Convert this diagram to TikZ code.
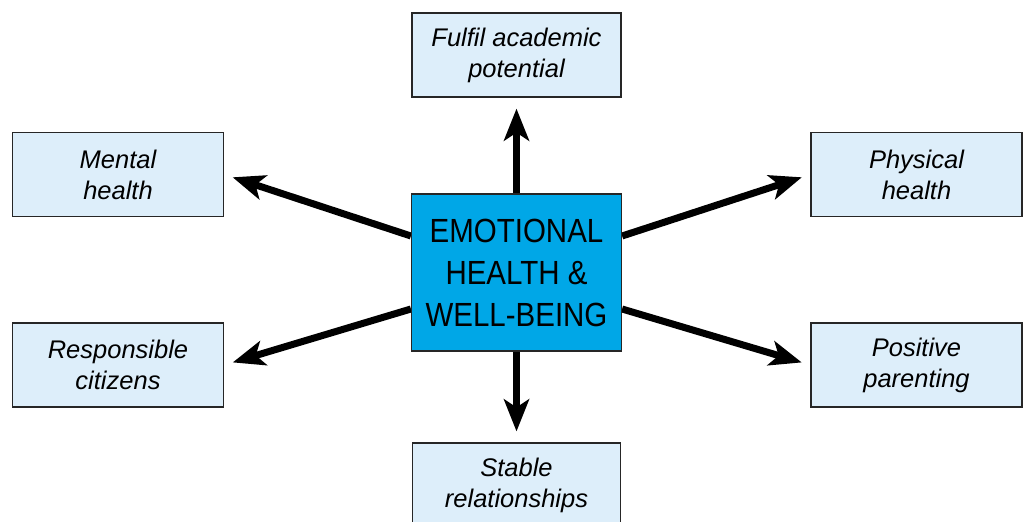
\documentclass[tikz,border=0pt]{standalone}
\usepackage{fontspec}
\setmainfont{Liberation Sans}
\newfontfamily\condfont{Liberation Sans}[FakeStretch=0.88]
\usetikzlibrary{arrows.meta,backgrounds}
\definecolor{corefill}{HTML}{00A7E7}
\definecolor{leaffill}{HTML}{DDEEFA}
\tikzset{
  x=1pt, y=-1pt,
  leaf/.style={draw=black!85, line width=1.2pt, fill=leaffill,
    minimum width=211pt, minimum height=84pt, inner sep=0pt,
    align=center, font=\fontsize{25.5}{31}\selectfont\itshape},
  core/.style={draw=black!85, line width=1.2pt, fill=corefill,
    minimum width=210pt, minimum height=157pt, inner sep=0pt,
    align=center, font=\fontsize{33.5}{42}\selectfont\condfont},
  link/.style={line width=7pt, -{Stealth[length=32pt, width=25pt, inset=8pt]}}
}
\begin{document}
\begin{tikzpicture}
\useasboundingbox (0,0) rectangle (1023,522);
\begin{scope}
\clip (0,0) rectangle (1023,522);
\node[core] (core) at (516.5,272.5) {EMOTIONAL\\HEALTH \&\\WELL-BEING};
\node[leaf, minimum width=209pt] (acad) at (516.5,55) {Fulfil academic\\potential};
\node[leaf] (mental) at (118,174.5) {Mental\\health};
\node[leaf] (phys) at (916.5,174.5) {Physical\\health};
\node[leaf] (resp) at (118,365) {Responsible\\citizens};
\node[leaf] (parent) at (916.5,365) {Positive\\parenting};
\node[leaf, minimum width=208pt] (stable) at (516.5,485) {Stable\\relationships};
\begin{scope}[on background layer]
\draw[link, shorten >=11pt] (core.north) -- (acad.south);
\draw[link, shorten >=11pt] (core.south) -- (stable.north);
\draw[link, shorten >=9pt] ([yshift=36.5pt]core.west) -- (mental.east);
\draw[link, shorten >=9pt] ([yshift=-36.5pt]core.west) -- (resp.east);
\draw[link, shorten >=9pt] ([yshift=36.5pt]core.east) -- (phys.west);
\draw[link, shorten >=9pt] ([yshift=-36.5pt]core.east) -- (parent.west);
\end{scope}
\end{scope}
\end{tikzpicture}
\end{document}
